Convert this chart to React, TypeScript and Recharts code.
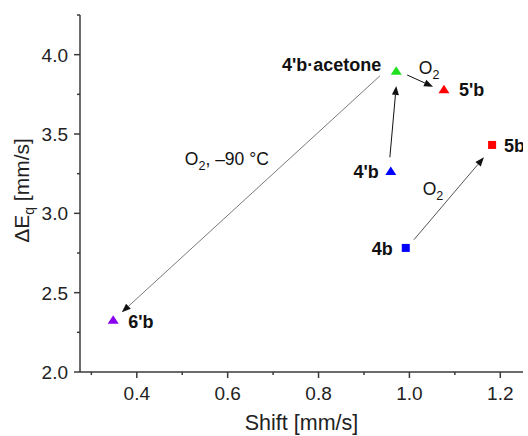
import { ScatterChart, Scatter, XAxis, YAxis, ReferenceLine, Label } from 'recharts';

// compounds and their Mössbauer parameters
const compounds = ["4b", "5b", "4'b", "4'b·acetone", "5'b", "6'b"];
const shiftValues = [0.992, 1.182, 0.959, 0.971, 1.076, 0.348];
const splittingValues = [2.782, 3.431, 3.267, 3.899, 3.782, 2.33];

// reaction arrows (data coords)
const arrowFromShift = [0.935, 0.957, 0.995, 1.01];
const arrowFromSplit = [3.866, 3.353, 3.872, 2.834];
const arrowToShift = [0.367, 0.971, 1.052, 1.164];
const arrowToSplit = [2.376, 3.803, 3.798, 3.353];
const arrowNotes = ['O2, –90 °C', '', 'O2', 'O2'];

const xMajorTicks = [0.4, 0.6, 0.8, 1.0, 1.2];
const xMinorTicks = [0.3, 0.5, 0.7, 0.9, 1.1];
const yMajorTicks = [2.0, 2.5, 3.0, 3.5, 4.0];
const yMinorTicks = [2.25, 2.75, 3.25, 3.75, 4.25];

const FONT = '"Liberation Sans", Arial, sans-serif';
const AXIS = '#3a3a3a';

const MARKERS: Record<string, { color: string; shape: 'square' | 'triangle'; anchor: 'start' | 'end'; dx: number; dy: number }> = {
  '4b': { color: '#0000ff', shape: 'square', anchor: 'end', dx: -13, dy: 7 },
  '5b': { color: '#ff0000', shape: 'square', anchor: 'start', dx: 12, dy: 7 },
  "4'b": { color: '#0000ff', shape: 'triangle', anchor: 'end', dx: -12, dy: 7 },
  "4'b·acetone": { color: '#1ee01e', shape: 'triangle', anchor: 'end', dx: -15, dy: 0 },
  "5'b": { color: '#ff0000', shape: 'triangle', anchor: 'start', dx: 15, dy: 7 },
  "6'b": { color: '#8800ee', shape: 'triangle', anchor: 'start', dx: 15, dy: 8 },
};

// line colour and note offset (from arrow midpoint) per arrow
const ARROW_STYLE = [
  { stroke: '#7a7a7a', noteDx: -24, noteDy: -29 },
  { stroke: '#111111', noteDx: 0, noteDy: 0 },
  { stroke: '#111111', noteDx: 9, noteDy: -7 },
  { stroke: '#555555', noteDx: -16, noteDy: -3 },
];

const points = compounds.map((name, i) => ({
  name,
  x: shiftValues[i],
  y: splittingValues[i],
}));

function NoteText({ x, y, text }: { x: number; y: number; text: string }) {
  if (!text) return null;
  const hasO2 = text.startsWith('O2');
  const rest = hasO2 ? text.slice(2) : text;
  return (
    <text x={x} y={y} textAnchor="middle" fontFamily={FONT} fontSize={17.5} fill="#111">
      {hasO2 ? 'O' : ''}
      {hasO2 && (
        <tspan dy={5} fontSize={12.5}>
          2
        </tspan>
      )}
      <tspan dy={hasO2 ? -5 : 0}>{rest}</tspan>
    </text>
  );
}

function makeArrow(idx: number) {
  return (props: any) => {
    const { x1, y1, x2, y2 } = props;
    const style = ARROW_STYLE[idx];
    const len = Math.hypot(x2 - x1, y2 - y1) || 1;
    const ux = (x2 - x1) / len;
    const uy = (y2 - y1) / len;
    const headL = 9;
    const headW = 3.5;
    const bx = x2 - ux * headL;
    const by = y2 - uy * headL;
    const head = `${x2},${y2} ${bx - uy * headW},${by + ux * headW} ${bx + uy * headW},${by - ux * headW}`;
    return (
      <g>
        <line x1={x1} y1={y1} x2={bx} y2={by} stroke={style.stroke} strokeWidth={1} />
        <polygon points={head} fill="#111" />
        <NoteText
          x={(x1 + x2) / 2 + style.noteDx}
          y={(y1 + y2) / 2 + style.noteDy}
          text={arrowNotes[idx]}
        />
      </g>
    );
  };
}

function PointShape(props: any) {
  const { cx, cy, payload } = props;
  const m = MARKERS[payload.name];
  const mark =
    m.shape === 'square' ? (
      <rect x={cx - 4} y={cy - 4} width={8} height={8} fill={m.color} />
    ) : (
      <polygon points={`${cx},${cy - 4.5} ${cx + 5.5},${cy + 4} ${cx - 5.5},${cy + 4}`} fill={m.color} />
    );
  return (
    <g>
      {mark}
      <text
        x={cx + m.dx}
        y={cy + m.dy}
        textAnchor={m.anchor}
        fontFamily={FONT}
        fontSize={18}
        fontWeight="bold"
        fill="#111"
      >
        {payload.name}
      </text>
    </g>
  );
}

function XTick(props: any) {
  const { x, y, payload } = props;
  const major = xMajorTicks.includes(payload.value);
  return (
    <g>
      <line x1={x} x2={x} y1={y} y2={y + (major ? 6 : 3)} stroke={AXIS} strokeWidth={1.5} />
      {major && (
        <text x={x} y={y + 28} textAnchor="middle" fontFamily={FONT} fontSize={19} fill="#222">
          {payload.value.toFixed(1)}
        </text>
      )}
    </g>
  );
}

function YTick(props: any) {
  const { x, y, payload } = props;
  const major = yMajorTicks.includes(payload.value);
  return (
    <g>
      <line x1={x - (major ? 6 : 3)} x2={x} y1={y} y2={y} stroke={AXIS} strokeWidth={1.5} />
      {major && (
        <text x={x - 12} y={y + 7} textAnchor="end" fontFamily={FONT} fontSize={19} fill="#222">
          {payload.value.toFixed(1)}
        </text>
      )}
    </g>
  );
}

const xTitle = (props: any) => {
  const vb = props.viewBox || { x: 80, y: 372, width: 443, height: 64 };
  return (
    <text x={vb.x + vb.width / 2} y={vb.y + 58} textAnchor="middle" fontFamily={FONT} fontSize={21.5} fill="#222">
      Shift [mm/s]
    </text>
  );
};

const yTitle = (props: any) => {
  const vb = props.viewBox || { x: 0, y: 15, width: 80, height: 357 };
  const tx = vb.x + 29;
  const ty = vb.y + vb.height / 2 - 3;
  return (
    <text
      x={tx}
      y={ty}
      transform={`rotate(-90, ${tx}, ${ty})`}
      textAnchor="middle"
      fontFamily={FONT}
      fontSize={21}
      fill="#222"
    >
      ΔE
      <tspan dy={5} fontSize={14}>
        q
      </tspan>
      <tspan dy={-5}> [mm/s]</tspan>
    </text>
  );
};

export default function App() {
  return (
    <div style={{ position: 'absolute', left: 0, top: 0, width: 528, height: 436, background: '#fff' }}>
      <ScatterChart width={528} height={436} margin={{ top: 15, right: 5, bottom: 0, left: 0 }}>
        <XAxis
          type="number"
          dataKey="x"
          domain={[0.275, 1.25]}
          allowDataOverflow
          ticks={[...xMinorTicks, ...xMajorTicks].sort((a, b) => a - b)}
          interval={0}
          tickSize={0}
          tickMargin={0}
          tick={<XTick />}
          height={64}
          axisLine={{ stroke: AXIS, strokeWidth: 1.5 }}
        >
          <Label content={xTitle} />
        </XAxis>
        <YAxis
          type="number"
          dataKey="y"
          domain={[2.0, 4.25]}
          allowDataOverflow
          ticks={[...yMinorTicks, ...yMajorTicks].sort((a, b) => a - b)}
          interval={0}
          tickSize={0}
          tickMargin={0}
          tick={<YTick />}
          width={80}
          axisLine={{ stroke: AXIS, strokeWidth: 1.5 }}
        >
          <Label content={yTitle} />
        </YAxis>
        {arrowFromShift.map((_, i) => (
          <ReferenceLine
            key={`arrow-${i}`}
            segment={[
              { x: arrowFromShift[i], y: arrowFromSplit[i] },
              { x: arrowToShift[i], y: arrowToSplit[i] },
            ]}
            ifOverflow="visible"
            shape={makeArrow(i)}
          />
        ))}
        <Scatter data={points} shape={<PointShape />} isAnimationActive={false} />
      </ScatterChart>
    </div>
  );
}
